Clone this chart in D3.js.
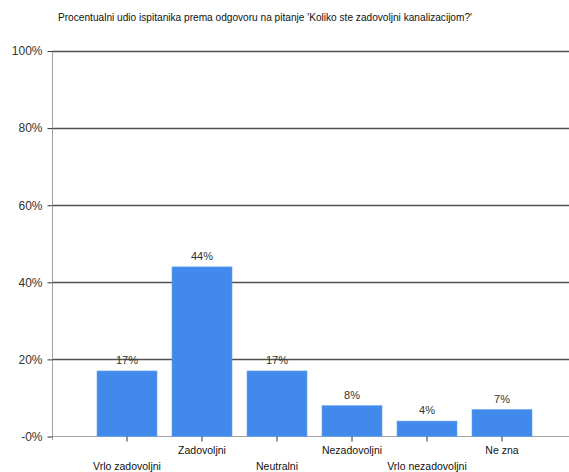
<!DOCTYPE html>
<html><head><meta charset="utf-8">
<script src="https://cdn.jsdelivr.net/npm/d3@7"></script>
<style>body{margin:0;background:#fff}svg{display:block;font-family:"Liberation Sans",Arial,sans-serif}</style>
</head><body><svg id="c" width="569" height="472"></svg>
<script>
const title = "Procentualni udio ispitanika prema odgovoru na pitanje 'Koliko ste zadovoljni kanalizacijom?'";
const categories = ["Vrlo zadovoljni","Zadovoljni","Neutralni","Nezadovoljni","Vrlo nezadovoljni","Ne zna"];
const values = [17,44,17,8,4,7];
const yTicks = [0,20,40,60,80,100];
const yTickLabels = ["-0%","20%","40%","60%","80%","100%"];

const svg = d3.select("#c");
const x = d3.scaleBand().domain(categories).range([89.5,539.5]).paddingInner(0.2).paddingOuter(0.1);
const y = d3.scaleLinear().domain([0,100]).range([436.5,51]);

svg.append("text").attr("x",265).attr("y",21).attr("text-anchor","middle")
  .attr("font-size",11).attr("fill","#111").attr("textLength",414).attr("lengthAdjust","spacingAndGlyphs").text(title);

// gridlines
svg.append("g").selectAll("line").data(yTicks.filter(d=>d>0)).join("line")
  .attr("x1",52).attr("x2",569).attr("y1",d=>Math.round(y(d))+0.5).attr("y2",d=>Math.round(y(d))+0.5)
  .attr("stroke","#505050").attr("stroke-width",1.5);
// zero line
svg.append("line").attr("x1",52).attr("x2",569).attr("y1",436.5).attr("y2",436.5).attr("stroke","#a0a0a0").attr("stroke-width",1);

// y axis
const yAxis = svg.append("g").attr("transform","translate(52.5,0)")
  .call(d3.axisLeft(y).tickValues(yTicks).tickSize(5).tickPadding(5).tickFormat((d,i)=>yTickLabels[i]));
yAxis.select(".domain").attr("stroke","#a0a0a0").attr("d","M0,51V440");
yAxis.selectAll(".tick line").attr("stroke","#333");
yAxis.selectAll(".tick text").attr("font-size",12).attr("fill","#333").attr("font-family","Liberation Sans, Arial, sans-serif");

// bars
svg.append("g").selectAll("rect").data(values).join("rect")
  .attr("x",(d,i)=>x(categories[i])).attr("width",x.bandwidth())
  .attr("y",d=>y(d)).attr("height",d=>y(0)-y(d))
  .attr("fill","#418aec").attr("stroke","#6aa3f0").attr("stroke-width",0.6);

// value labels
svg.append("g").selectAll("text").data(values).join("text")
  .attr("x",(d,i)=>x(categories[i])+x.bandwidth()/2).attr("y",d=>y(d)-7)
  .attr("text-anchor","middle").attr("font-size",11).attr("fill","#333").text(d=>d+"%");

// x axis
const xAxis = svg.append("g").attr("transform","translate(0,436.5)")
  .call(d3.axisBottom(x).tickSize(5).tickFormat(""));
xAxis.select(".domain").remove();
xAxis.selectAll(".tick line").attr("stroke","#333");
xAxis.selectAll(".tick").append("text")
  .attr("y",(d,i)=> i%2===0 ? 33 : 17).attr("text-anchor","middle")
  .attr("font-size",10.5).attr("fill","#111").attr("font-family","Liberation Sans, Arial, sans-serif")
  .text(d=>d);
</script></body></html>
